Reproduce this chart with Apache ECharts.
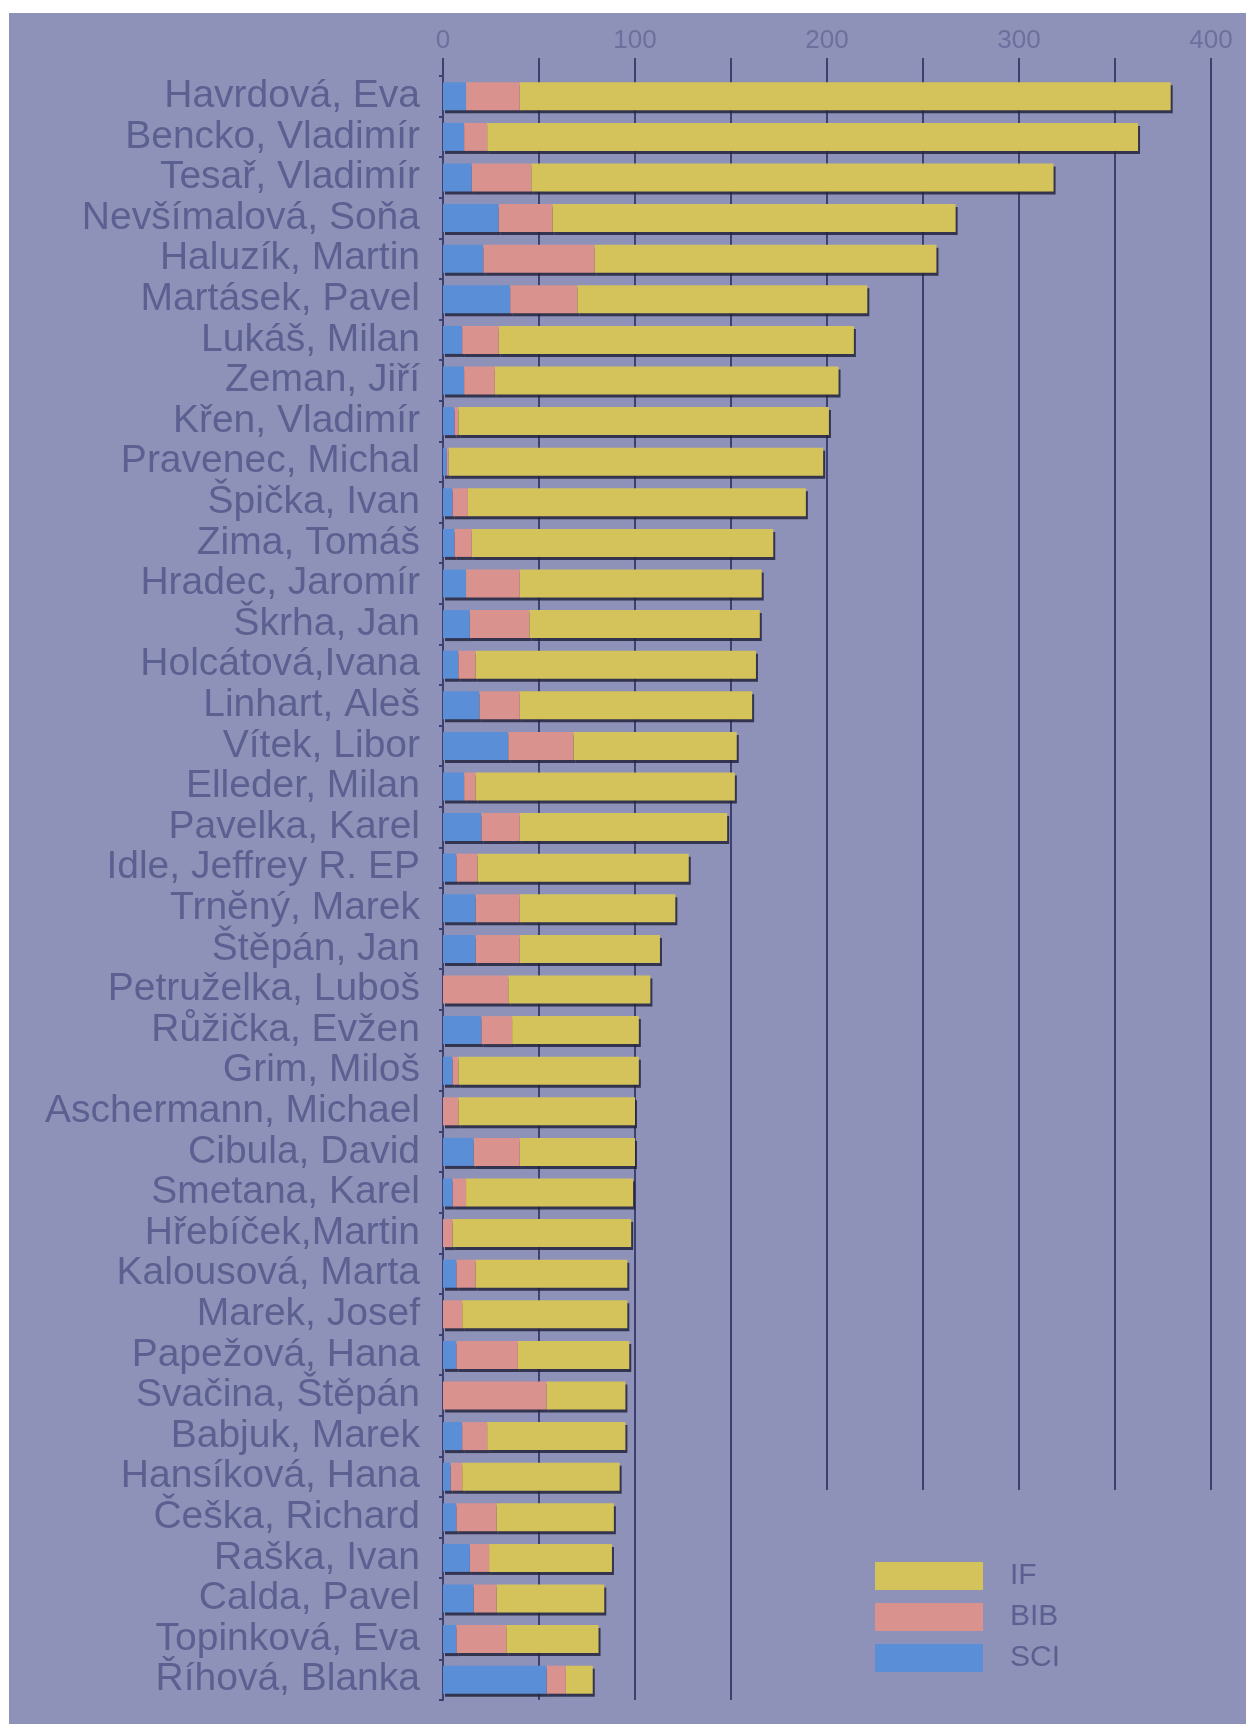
<!DOCTYPE html>
<html>
<head>
<meta charset="utf-8">
<title>SCI / BIB / IF</title>
<script src="https://cdn.jsdelivr.net/npm/echarts@6/dist/echarts.min.js"></script>
<style>
	html, body {
		margin: 0;
		padding: 0;
		background: #fff;
	}
	#main {
		position: absolute;
		left: 9px;
		top: 13px;
		width: 1237px;
		height: 1711px;
	}
</style>
</head>
<body>
<div id="main"></div>
<script>
// jména (shora dolů)
var names = [
	'Havrdová, Eva', 'Bencko, Vladimír', 'Tesař, Vladimír', 'Nevšímalová, Soňa',
	'Haluzík, Martin', 'Martásek, Pavel', 'Lukáš, Milan', 'Zeman, Jiří',
	'Křen, Vladimír', 'Pravenec, Michal', 'Špička, Ivan', 'Zima, Tomáš',
	'Hradec, Jaromír', 'Škrha, Jan', 'Holcátová,Ivana', 'Linhart, Aleš',
	'Vítek, Libor', 'Elleder, Milan', 'Pavelka, Karel', 'Idle, Jeffrey R. EP',
	'Trnĕný, Marek', 'Štěpán, Jan', 'Petruželka, Luboš', 'Růžička, Evžen',
	'Grim, Miloš', 'Aschermann, Michael', 'Cibula, David', 'Smetana, Karel',
	'Hřebíček,Martin', 'Kalousová, Marta', 'Marek, Josef', 'Papežová, Hana',
	'Svačina, Štěpán', 'Babjuk, Marek', 'Hansíková, Hana', 'Češka, Richard',
	'Raška, Ivan', 'Calda, Pavel', 'Topinková, Eva', 'Říhová, Blanka'
];

var sci = [12, 11, 15, 29, 21, 35, 10, 11, 6, 2, 5, 6, 12, 14, 8, 19, 34, 11, 20, 7,
	17, 17, 0, 20, 5, 0, 16, 5, 0, 7, 0, 7, 0, 10, 4, 7, 14, 16, 7, 54];
var bib = [28, 12, 31, 28, 58, 35, 19, 16, 2, 1, 8, 9, 28, 31, 9, 21, 34, 6, 20, 11,
	23, 23, 34, 16, 3, 8, 24, 7, 5, 10, 10, 32, 54, 13, 6, 21, 10, 12, 26, 10];
var impact = [339, 339, 272, 210, 178, 151, 185, 179, 193, 195, 176, 157, 126, 120, 146, 121, 85, 135, 108, 110,
	81, 73, 74, 66, 94, 92, 60, 87, 93, 79, 86, 58, 41, 72, 82, 61, 64, 56, 48, 14];

var legendNames = ['IF', 'BIB', 'SCI'];
var xTicks = [0, 400, 50];   // min, max, interval

var myChart = echarts.init(document.getElementById('main'));

var barShadow = {
	shadowColor: 'rgba(35,35,60,0.85)',
	shadowBlur: 0,
	shadowOffsetX: 2,
	shadowOffsetY: 3
};

function barSeries (name, data, color) {
	return {
		name: name,
		type: 'bar',
		stack: 'total',
		barWidth: 28,
		data: data,
		itemStyle: Object.assign({ color: color }, barShadow)
	};
}

var option = {
	backgroundColor: '#8e92b8',
	animation: false,
	textStyle: { fontFamily: 'Liberation Sans, Arial, sans-serif' },
	grid: {
		left: 434,
		right: 35,
		top: 63,
		bottom: 24
	},
	legend: {
		data: legendNames,
		orient: 'vertical',
		left: 866,
		top: 1548,
		padding: 0,
		icon: 'rect',
		itemWidth: 108,
		itemHeight: 28,
		itemGap: 11,
		textStyle: {
			color: '#5c6090',
			fontSize: 30,
			lineHeight: 28,
			padding: [0, 0, 0, 22]
		}
	},
	// zakryje mřížku pod legendou
	graphic: [{
		type: 'rect',
		z: 1,
		shape: { x: 780, y: 1477, width: 460, height: 240 },
		style: { fill: '#8e92b8' }
	}],
	xAxis: {
		type: 'value',
		position: 'top',
		min: xTicks[0],
		max: xTicks[1],
		interval: xTicks[2],
		axisLine: { show: false },
		axisTick: {
			show: true,
			length: 18,
			lineStyle: { color: '#3d4070', width: 2 }
		},
		axisLabel: {
			margin: 22,
			color: '#6c709e',
			fontSize: 26,
			formatter: function (v) { return v % 100 === 0 ? v : ''; }
		},
		splitLine: {
			show: true,
			lineStyle: { color: '#3d4070', width: 2 }
		}
	},
	yAxis: {
		type: 'category',
		inverse: true,
		data: names,
		axisLine: { show: true, lineStyle: { color: '#3d4070', width: 2 } },
		axisTick: { show: true, length: 4, lineStyle: { color: '#3d4070', width: 2 } },
		axisLabel: {
			interval: 0,
			margin: 23,
			color: '#5c6090',
			fontSize: 39
		}
	},
	series: [
		barSeries('SCI', sci, '#5a8ed6'),
		barSeries('BIB', bib, '#d9928e'),
		barSeries('IF', impact, '#d3c35a')
	]
};

myChart.setOption(option);
</script>
</body>
</html>
